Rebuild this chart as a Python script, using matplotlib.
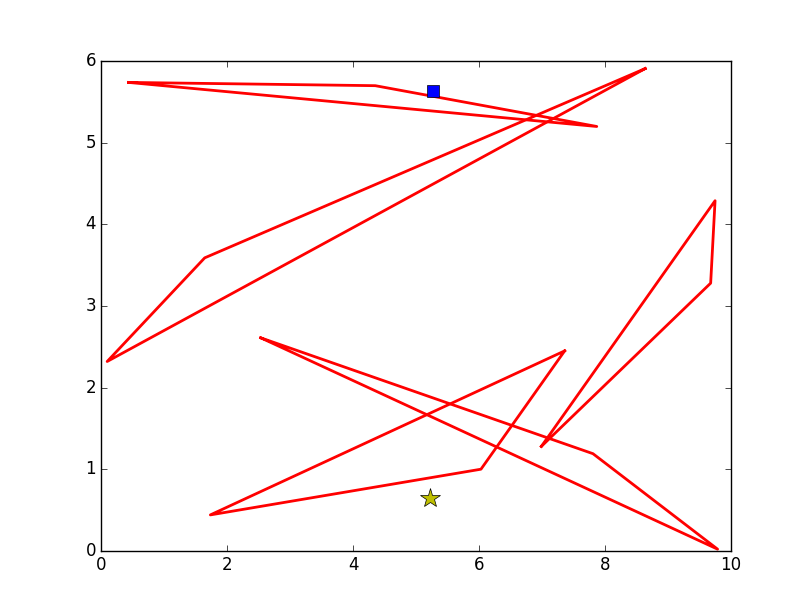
import matplotlib
matplotlib.use("Agg")
import matplotlib.pyplot as plt

plt.style.use("classic")

# Five closed triangles (x, y of each vertex)
tri1_x = [0.43, 4.35, 7.87]
tri1_y = [5.74, 5.70, 5.20]
tri2_x = [8.64, 1.64, 0.09]
tri2_y = [5.91, 3.59, 2.32]
tri3_x = [2.53, 7.81, 9.79]
tri3_y = [2.61, 1.19, 0.02]
tri4_x = [6.99, 9.75, 9.68]
tri4_y = [1.28, 4.29, 3.28]
tri5_x = [7.36, 6.03, 1.73]
tri5_y = [2.45, 1.00, 0.44]

square_x, square_y = [5.27], [5.64]
star_x, star_y = [5.22], [0.65]

fig = plt.figure(figsize=(8.12, 6.12), dpi=100)
ax = fig.add_subplot(111)

for tx, ty in [(tri1_x, tri1_y), (tri2_x, tri2_y), (tri3_x, tri3_y),
               (tri4_x, tri4_y), (tri5_x, tri5_y)]:
    ax.plot(tx + tx[:1], ty + ty[:1], color="r", linewidth=2)

ax.plot(square_x, square_y, "bs", markersize=9)
ax.plot(star_x, star_y, "y*", markersize=15, markeredgecolor="k")

ax.set_xlim(0, 10)
ax.set_ylim(0, 6)

fig.savefig("out.png", dpi=100)
